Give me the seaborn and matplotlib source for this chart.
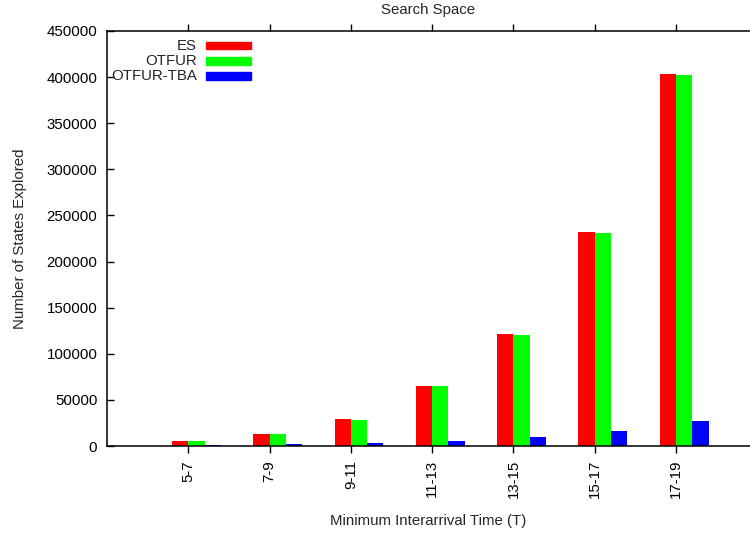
import numpy as np
import pandas as pd
import matplotlib
matplotlib.use("Agg")
import matplotlib.pyplot as plt
import seaborn as sns
from matplotlib.patches import Rectangle

# ---- data ----
categories = ["5-7", "7-9", "9-11", "11-13", "13-15", "15-17", "17-19"]
series = ["ES", "OTFUR", "OTFUR-TBA"]
es = [5100, 12700, 28900, 65000, 121000, 231700, 403400]
otfur = [5000, 12600, 28700, 64800, 120600, 231000, 402700]
otfur_tba = [1000, 1700, 2900, 5400, 9400, 16600, 27100]
yticks = [0, 50000, 100000, 150000, 200000, 250000, 300000, 350000, 400000, 450000]
colors = ["#ff0000", "#00ff00", "#0000ff"]

rows = []
for name, vals in zip(series, [es, otfur, otfur_tba]):
    for c, v in zip(categories, vals):
        rows.append({"cat": c, "val": v, "series": name})
df = pd.DataFrame(rows)

sns.set_theme(style="white")
plt.rcParams["font.family"] = ["Liberation Sans", "DejaVu Sans"]
FS = 10.8

W, H = 750, 534
fig = plt.figure(figsize=(W / 100, H / 100), dpi=100)
ax = fig.add_axes([107 / W, (H - 446) / H, (W - 107) / W, (446 - 31) / H])

sns.barplot(data=df, x="cat", y="val", hue="series", order=categories,
            hue_order=series, palette=colors, width=0.6, saturation=1,
            linewidth=0, legend=False, ax=ax)

ax.set_xlim(-1.1, 6.81)
ax.set_ylim(0, 450000)
ax.set_yticks(yticks)
ax.set_yticklabels([str(v) for v in yticks], fontsize=FS)
ax.set_xticks(np.arange(len(categories)) - 0.1)
ax.set_xticklabels(categories, rotation=90, fontsize=FS, va="top", ha="center")

for s in ["left", "bottom", "top"]:
    ax.spines[s].set_visible(True)
    ax.spines[s].set_color("black")
    ax.spines[s].set_linewidth(1.1)
ax.spines["right"].set_visible(False)

ax.tick_params(axis="x", direction="out", length=5, width=1, top=True,
               bottom=True, labeltop=False, pad=5, colors="black")
ax.tick_params(axis="y", direction="in", length=5, width=1, left=True,
               right=False, pad=7, colors="black")

ax.set_xlabel("Minimum Interarrival Time (T)", fontsize=FS, labelpad=11)
ax.set_ylabel("Number of States Explored", fontsize=FS, labelpad=14)
ax.set_title("Search Space", fontsize=FS, pad=12)

# legend (gnuplot style: right-aligned text, sample to the right)
legend_y = [45.5, 60.7, 75.7]
for name, col, yy in zip(series, colors, legend_y):
    fig.text(197 / W, 1 - yy / H, name, ha="right", va="center", fontsize=FS)
    fig.patches.append(Rectangle((206 / W, 1 - (yy + 3.8) / H), 45 / W, 7.6 / H,
                                 transform=fig.transFigure, color=col,
                                 figure=fig))

fig.savefig("out.png", dpi=100)
